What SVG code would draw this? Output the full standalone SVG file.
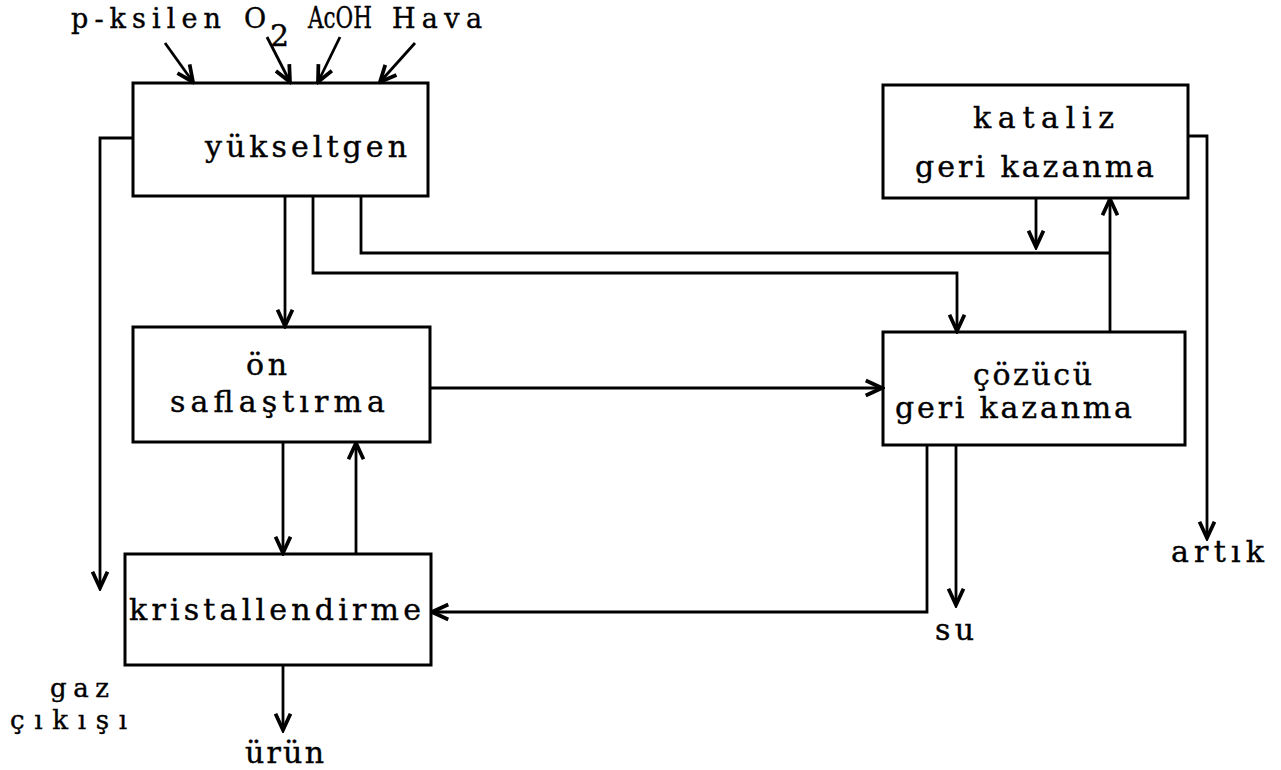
<svg xmlns="http://www.w3.org/2000/svg" width="1281" height="770" viewBox="0 0 1281 770">
<defs>
<marker id="arr" markerUnits="userSpaceOnUse" markerWidth="20" markerHeight="20" viewBox="-14 -8 16 16" refX="0" refY="0" orient="auto">
<path d="M-13,-6 L0,0 L-13,6" fill="none" stroke="#000" stroke-width="3" stroke-linejoin="miter"/>
</marker>
</defs>
<style>
.box{fill:#fff;stroke:#000;stroke-width:3}
.t{font-family:"DejaVu Serif","Liberation Serif",serif;font-size:30px;fill:#000;stroke:#000;stroke-width:0.4}
.s{font-size:26px}
.top{font-size:27px}
.c{fill:none;stroke:#000;stroke-width:2.8;marker-end:url(#arr)}
.l{fill:none;stroke:#000;stroke-width:2.8}
</style>
<rect width="1281" height="770" fill="#fff"/>
<g id="inputs">
<text class="t top" x="71" y="28" textLength="150" lengthAdjust="spacing">p-ksilen</text>
<text class="t top" x="244" y="28">O</text>
<text class="t" x="270" y="46" font-size="24">2</text>
<text class="t" x="308" y="28" font-size="24" textLength="64" lengthAdjust="spacingAndGlyphs">AcOH</text>
<text class="t top" x="392" y="28" textLength="90" lengthAdjust="spacing">Hava</text>
</g>
<g id="yukseltgen">
<rect class="box" x="133" y="83" width="295" height="113"/>
<text class="t" x="205" y="157" textLength="202" lengthAdjust="spacing">yükseltgen</text>
</g>
<g id="kataliz">
<rect class="box" x="883" y="85" width="305" height="113"/>
<text class="t" x="973" y="128" textLength="141" lengthAdjust="spacing">kataliz</text>
<text class="t" x="915" y="177" textLength="239" lengthAdjust="spacing">geri kazanma</text>
</g>
<g id="on-saflastirma">
<rect class="box" x="133" y="327" width="297" height="115"/>
<text class="t" x="246" y="375" textLength="41" lengthAdjust="spacing">ön</text>
<text class="t" x="170" y="412" textLength="215" lengthAdjust="spacing">saflaştırma</text>
</g>
<g id="cozucu">
<rect class="box" x="883" y="332" width="302" height="113"/>
<text class="t" x="973" y="385" textLength="119" lengthAdjust="spacing">çözücü</text>
<text class="t" x="895" y="418" textLength="237" lengthAdjust="spacing">geri kazanma</text>
</g>
<g id="kristallendirme">
<rect class="box" x="125" y="554" width="306" height="111"/>
<text class="t" x="129" y="620" textLength="292" lengthAdjust="spacing">kristallendirme</text>
</g>
<g id="outputs">
<text class="t s" x="50" y="697" textLength="59" lengthAdjust="spacing">gaz</text>
<text class="t s" x="10" y="729" textLength="117" lengthAdjust="spacing">çıkışı</text>
<text class="t" x="245" y="763" textLength="79" lengthAdjust="spacing">ürün</text>
<text class="t" x="935" y="640" textLength="39" lengthAdjust="spacing">su</text>
<text class="t" x="1171" y="562" textLength="93" lengthAdjust="spacing">artık</text>
</g>
<g id="connectors">
<path class="c" d="M165,43 L193,82"/>
<path class="c" d="M267,37 L290,82"/>
<path class="c" d="M340,37 L318,82"/>
<path class="c" d="M415,43 L380,82"/>
<path class="c" d="M133,138 H100 V588"/>
<path class="c" d="M285,196 V326"/>
<path class="c" d="M313,196 V273 H957 V331"/>
<path class="l" d="M361,196 V253 H1110"/>
<path class="c" d="M1110,332 V199"/>
<path class="c" d="M1036,198 V247"/>
<path class="c" d="M1188,136 H1207 V538"/>
<path class="c" d="M430,388 H882"/>
<path class="c" d="M283,442 V553"/>
<path class="c" d="M356,554 V443"/>
<path class="c" d="M927,445 V612 H432"/>
<path class="c" d="M956,445 V605"/>
<path class="c" d="M283,665 V730"/>
</g>
</svg>
